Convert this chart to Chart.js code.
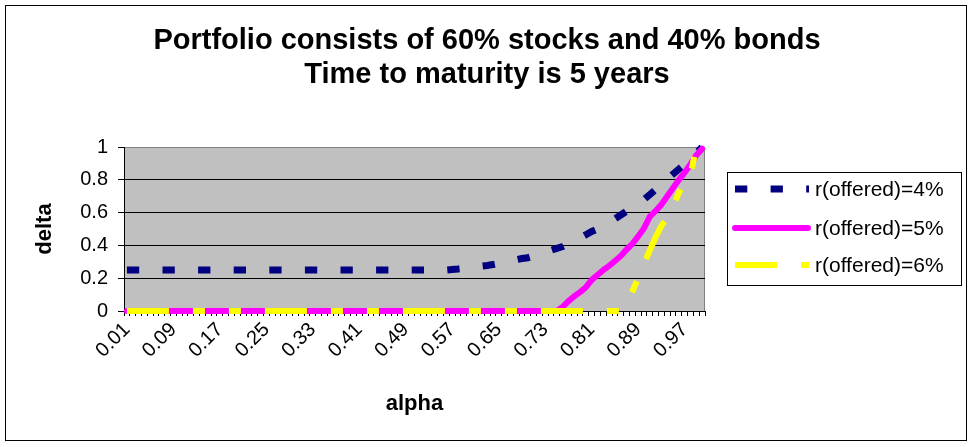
<!DOCTYPE html>
<html>
<head>
<meta charset="utf-8">
<script src="https://cdn.jsdelivr.net/npm/chart.js@4.4.1/dist/chart.umd.min.js"></script>
<style>
  html, body { margin: 0; padding: 0; background: #fff; }
  #wrap { width: 974px; height: 447px; }
</style>
</head>
<body>
<div id="wrap"><canvas id="c" width="974" height="447"></canvas></div>
<script>
// Share invested in the guaranteed part (alpha) vs. resulting delta
const alphaLabels = [
  '0.01','0.02','0.03','0.04','0.05','0.06','0.07','0.08','0.09','0.10',
  '0.11','0.12','0.13','0.14','0.15','0.16','0.17','0.18','0.19','0.20',
  '0.21','0.22','0.23','0.24','0.25','0.26','0.27','0.28','0.29','0.30',
  '0.31','0.32','0.33','0.34','0.35','0.36','0.37','0.38','0.39','0.40',
  '0.41','0.42','0.43','0.44','0.45','0.46','0.47','0.48','0.49','0.50',
  '0.51','0.52','0.53','0.54','0.55','0.56','0.57','0.58','0.59','0.60',
  '0.61','0.62','0.63','0.64','0.65','0.66','0.67','0.68','0.69','0.70',
  '0.71','0.72','0.73','0.74','0.75','0.76','0.77','0.78','0.79','0.80',
  '0.81','0.82','0.83','0.84','0.85','0.86','0.87','0.88','0.89','0.90',
  '0.91','0.92','0.93','0.94','0.95','0.96','0.97','0.98','0.99','1.00'
];

// Category labels printed under the axis
const xTickLabels = ['0.01','0.09','0.17','0.25','0.33','0.41','0.49','0.57','0.65','0.73','0.81','0.89','0.97'];

// delta for offered rate 4%
const deltaR4 = [
  0.25,0.25,0.25,0.25,0.25,0.25,0.25,0.25,0.25,0.25,
  0.25,0.25,0.25,0.25,0.25,0.25,0.25,0.25,0.25,0.25,
  0.25,0.25,0.25,0.25,0.25,0.25,0.25,0.25,0.25,0.25,
  0.25,0.25,0.25,0.25,0.25,0.25,0.25,0.25,0.25,0.25,
  0.25,0.25,0.25,0.25,0.25,0.25,0.25,0.25,0.25,0.25,
  0.25,0.25,0.25,0.25,0.25,0.25,0.253,0.256,0.26,0.265,
  0.27,0.274,0.278,0.283,0.29,0.297,0.305,0.313,0.32,0.325,
  0.335,0.345,0.357,0.37,0.382,0.393,0.41,0.427,0.445,0.465,
  0.485,0.5,0.52,0.54,0.562,0.585,0.608,0.63,0.655,0.68,
  0.71,0.74,0.77,0.805,0.835,0.865,0.895,0.93,0.96,1.0
];

// delta for offered rate 5%
const deltaR5 = [
  0,0,0,0,0,0,0,0,0,0,
  0,0,0,0,0,0,0,0,0,0,
  0,0,0,0,0,0,0,0,0,0,
  0,0,0,0,0,0,0,0,0,0,
  0,0,0,0,0,0,0,0,0,0,
  0,0,0,0,0,0,0,0,0,0,
  0,0,0,0,0,0,0,0,0,0,
  0,0,0,0,0,0.025,0.06,0.09,0.115,0.145,
  0.19,0.22,0.25,0.275,0.305,0.335,0.375,0.41,0.455,0.505,
  0.575,0.61,0.65,0.7,0.75,0.8,0.845,0.895,0.95,0.99
];

// delta for offered rate 6%
const deltaR6 = [
  0,0,0,0,0,0,0,0,0,0,
  0,0,0,0,0,0,0,0,0,0,
  0,0,0,0,0,0,0,0,0,0,
  0,0,0,0,0,0,0,0,0,0,
  0,0,0,0,0,0,0,0,0,0,
  0,0,0,0,0,0,0,0,0,0,
  0,0,0,0,0,0,0,0,0,0,
  0,0,0,0,0,0,0,0,0,0,
  0,0,0,0,0,0,0.04,0.12,0.2,0.29,
  0.37,0.45,0.52,0.57,0.64,0.72,0.79,0.83,1.0,1.0
];

const seriesNames = ['r(offered)=4%', 'r(offered)=5%', 'r(offered)=6%'];
const titleLines = ['Portfolio consists of 60% stocks and 40% bonds', 'Time to maturity is 5 years'];

const FONT = '"Liberation Sans", Arial, Helvetica, sans-serif';

// White page, outer frame and the grey plot area
const frame = {
  id: 'frame',
  beforeDraw(chart) {
    const { ctx, chartArea: a } = chart;
    ctx.save();
    ctx.fillStyle = '#ffffff';
    ctx.fillRect(0, 0, chart.width, chart.height);
    ctx.strokeStyle = '#000000';
    ctx.lineWidth = 1;
    ctx.strokeRect(5.5, 5.5, 961, 435);
    ctx.fillStyle = '#c0c0c0';
    ctx.fillRect(a.left, a.top, a.right - a.left, a.bottom - a.top);
    ctx.strokeStyle = '#808080';
    ctx.beginPath();
    ctx.moveTo(a.left, a.top + 0.5);
    ctx.lineTo(a.right - 0.5, a.top + 0.5);
    ctx.lineTo(a.right - 0.5, a.bottom);
    ctx.stroke();
    ctx.restore();
  },
  // Two-line heading centred over the whole page
  afterDraw(chart) {
    const ctx = chart.ctx;
    ctx.save();
    ctx.fillStyle = '#000000';
    ctx.font = 'bold 29px ' + FONT;
    ctx.textAlign = 'center';
    ctx.textBaseline = 'middle';
    titleLines.forEach((t, i) => ctx.fillText(t, chart.width / 2, 41 + i * 33.5));
    ctx.restore();
  }
};

// Boxed legend with line samples on the right
const sideLegend = {
  id: 'sideLegend',
  afterDraw(chart) {
    const ctx = chart.ctx;
    const rows = [189, 228, 265];
    ctx.save();
    ctx.fillStyle = '#ffffff';
    ctx.fillRect(727, 172, 235, 114);
    ctx.strokeStyle = '#000000';
    ctx.lineWidth = 1;
    ctx.strokeRect(727.5, 172.5, 234, 113);
    chart.data.datasets.forEach((ds, i) => {
      const y = rows[i];
      ctx.beginPath();
      ctx.strokeStyle = ds.borderColor;
      ctx.lineWidth = ds.borderWidth;
      ctx.setLineDash(ds.borderDash || []);
      ctx.lineCap = ds.borderCapStyle || 'butt';
      ctx.moveTo(735, y);
      ctx.lineTo(ds.borderCapStyle === 'round' ? 808 : 809, y);
      ctx.stroke();
      ctx.setLineDash([]);
      ctx.fillStyle = '#000000';
      ctx.font = '21px ' + FONT;
      ctx.textAlign = 'left';
      ctx.textBaseline = 'middle';
      ctx.fillText(ds.label, 815, y + 1);
    });
    ctx.restore();
  }
};

new Chart(document.getElementById('c'), {
  type: 'line',
  data: {
    labels: alphaLabels,
    datasets: [
      {
        label: seriesNames[0], data: deltaR4,
        borderColor: '#000080', borderWidth: 7,
        borderDash: [12.3, 23.3], borderCapStyle: 'butt',
        pointRadius: 0, tension: 0, order: 3, clip: false
      },
      {
        label: seriesNames[1], data: deltaR5,
        borderColor: '#ff00ff', borderWidth: 6,
        borderCapStyle: 'round', borderJoinStyle: 'round',
        pointRadius: 0, tension: 0, order: 2, clip: false
      },
      {
        label: seriesNames[2], data: deltaR6,
        borderColor: '#ffff00', borderWidth: 6,
        borderDash: [42, 24, 12, 24, 12, 24], borderCapStyle: 'butt',
        pointRadius: 0, tension: 0, order: 1, clip: false
      }
    ]
  },
  options: {
    responsive: false,
    animation: false,
    devicePixelRatio: 1,
    events: [],
    layout: { padding: { left: 0, right: 269, top: 147, bottom: 0 } },
    plugins: {
      legend: { display: false },
      tooltip: { enabled: false },
      title: { display: false }
    },
    scales: {
      x: {
        offset: true,
        ticks: {
          autoSkip: false, maxRotation: 45, minRotation: 45, padding: 2,
          color: '#000000', font: { family: FONT, size: 20 },
          callback(value, index) {
            const l = alphaLabels[index];
            return xTickLabels.includes(l) ? l : '';
          }
        },
        grid: { offset: true, drawOnChartArea: false, drawTicks: true, tickLength: 5, color: '#000000' },
        border: { color: '#000000', width: 1 },
        title: {
          display: true, text: 'alpha', color: '#000000',
          font: { family: FONT, size: 22, weight: 'bold' },
          padding: { top: 0, bottom: 30 }
        },
        afterFit(s) { s.height = 136; }
      },
      y: {
        min: 0, max: 1,
        ticks: {
          stepSize: 0.2, padding: 10, color: '#000000', font: { family: FONT, size: 20 },
          callback: (v) => String(Number(v.toFixed(1)))
        },
        grid: {
          color: (c) => (c.tick && c.tick.value === 1 ? '#808080' : '#000000'),
          tickColor: '#000000', tickLength: 6, drawTicks: true
        },
        border: { color: '#000000', width: 1 },
        title: {
          display: true, text: 'delta', color: '#000000',
          font: { family: FONT, size: 22, weight: 'bold' },
          padding: { top: 32, bottom: 0 }
        },
        afterFit(s) { s.width = 124; }
      }
    }
  },
  plugins: [frame, sideLegend]
});
</script>
</body>
</html>
